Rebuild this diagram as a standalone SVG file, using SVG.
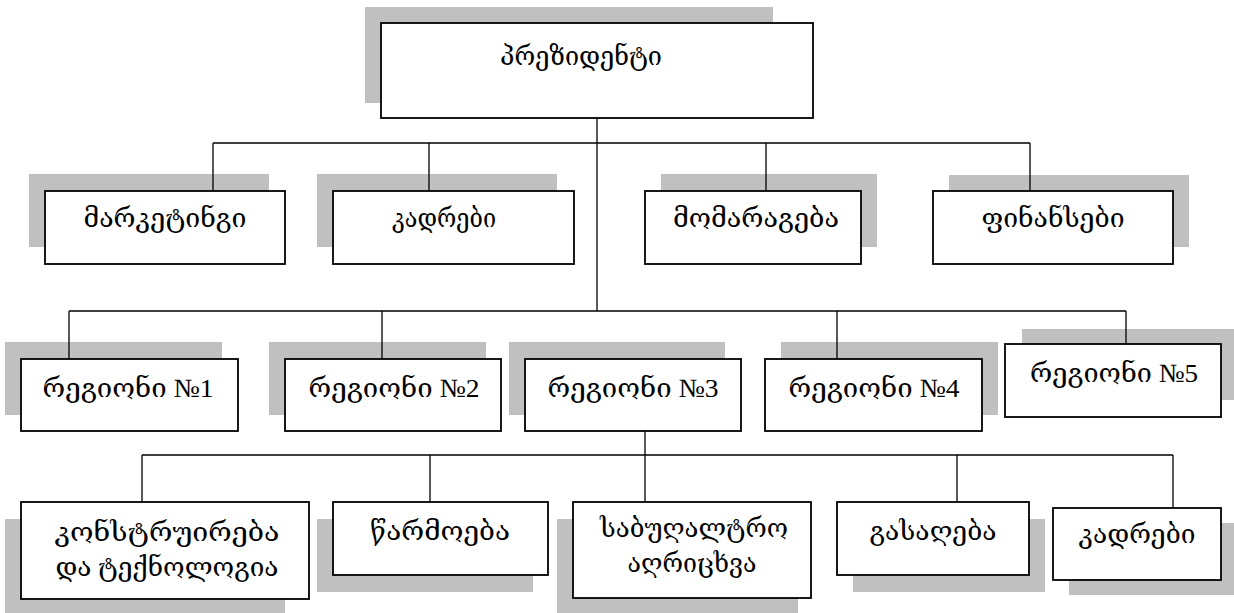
<svg xmlns="http://www.w3.org/2000/svg" width="1234" height="613" viewBox="0 0 1234 613">
  <style>
    .sh { fill: #c0c0c0; }
    .bx { fill: #ffffff; stroke: #000000; stroke-width: 1.8; }
    .ln { fill: none; stroke: #000000; stroke-width: 1.3; }
    .t  { font-family: "Liberation Serif", "DejaVu Serif", "DejaVu Sans", serif; font-size: 26px; font-weight: 200; text-anchor: middle; fill: #000000; }
  </style>
  <rect width="1234" height="613" fill="#ffffff"/>

  <!-- top level -->
  <g id="president">
    <rect class="sh" x="365" y="7" width="408" height="96"/>
    <rect class="bx" x="381" y="23" width="432" height="95"/>
    <text class="t" x="581" y="65" textLength="162" lengthAdjust="spacingAndGlyphs">პრეზიდენტი</text>
  </g>

  <!-- departments -->
  <g id="marketing">
    <rect class="sh" x="29" y="174" width="240" height="73"/>
    <rect class="bx" x="45" y="191" width="240" height="73"/>
    <text class="t" x="165" y="227" textLength="163" lengthAdjust="spacingAndGlyphs">მარკეტინგი</text>
  </g>
  <g id="personnel">
    <rect class="sh" x="317" y="174" width="240" height="73"/>
    <rect class="bx" x="333" y="191" width="241" height="73"/>
    <text class="t" x="444" y="227" textLength="104" lengthAdjust="spacingAndGlyphs">კადრები</text>
  </g>
  <g id="supply">
    <rect class="sh" x="661" y="174" width="216" height="73"/>
    <rect class="bx" x="645" y="191" width="216" height="73"/>
    <text class="t" x="756" y="227" textLength="166" lengthAdjust="spacingAndGlyphs">მომარაგება</text>
  </g>
  <g id="finance">
    <rect class="sh" x="949" y="175" width="240" height="72"/>
    <rect class="bx" x="933" y="191" width="240" height="73"/>
    <text class="t" x="1053" y="227" textLength="143" lengthAdjust="spacingAndGlyphs">ფინანსები</text>
  </g>

  <!-- regions -->
  <g id="region1">
    <rect class="sh" x="5" y="342" width="217" height="73"/>
    <rect class="bx" x="21" y="359" width="217" height="72"/>
    <text class="t" x="128" y="397" textLength="171" lengthAdjust="spacingAndGlyphs">რეგიონი №1</text>
  </g>
  <g id="region2">
    <rect class="sh" x="269" y="342" width="217" height="73"/>
    <rect class="bx" x="285" y="359" width="216" height="72"/>
    <text class="t" x="394" y="397" textLength="171" lengthAdjust="spacingAndGlyphs">რეგიონი №2</text>
  </g>
  <g id="region3">
    <rect class="sh" x="509" y="342" width="216" height="73"/>
    <rect class="bx" x="525" y="359" width="216" height="72"/>
    <text class="t" x="633" y="397" textLength="171" lengthAdjust="spacingAndGlyphs">რეგიონი №3</text>
  </g>
  <g id="region4">
    <rect class="sh" x="781" y="342" width="217" height="73"/>
    <rect class="bx" x="765" y="359" width="217" height="72"/>
    <text class="t" x="874" y="397" textLength="171" lengthAdjust="spacingAndGlyphs">რეგიონი №4</text>
  </g>
  <g id="region5">
    <rect class="sh" x="1022" y="329" width="212" height="71"/>
    <rect class="bx" x="1005" y="344" width="216" height="73"/>
    <text class="t" x="1114" y="382" textLength="168" lengthAdjust="spacingAndGlyphs">რეგიონი №5</text>
  </g>

  <!-- units of region 3 -->
  <g id="design">
    <rect class="sh" x="5" y="519" width="280" height="94"/>
    <rect class="bx" x="21" y="502" width="288" height="97"/>
    <text class="t" x="167" y="541" textLength="225" lengthAdjust="spacingAndGlyphs">კონსტრუირება</text>
    <text class="t" x="167" y="576" textLength="223" lengthAdjust="spacingAndGlyphs">და ტექნოლოგია</text>
  </g>
  <g id="production">
    <rect class="sh" x="317" y="519" width="216" height="73"/>
    <rect class="bx" x="333" y="502" width="215" height="73"/>
    <text class="t" x="440" y="540" textLength="140" lengthAdjust="spacingAndGlyphs">წარმოება</text>
  </g>
  <g id="accounting">
    <rect class="sh" x="557" y="519" width="241" height="94"/>
    <rect class="bx" x="573" y="502" width="238" height="96"/>
    <text class="t" x="694" y="537" textLength="188" lengthAdjust="spacingAndGlyphs">საბუღალტრო</text>
    <text class="t" x="692" y="572" textLength="129" lengthAdjust="spacingAndGlyphs">აღრიცხვა</text>
  </g>
  <g id="sales">
    <rect class="sh" x="853" y="519" width="192" height="73"/>
    <rect class="bx" x="837" y="502" width="192" height="73"/>
    <text class="t" x="933" y="540" textLength="127" lengthAdjust="spacingAndGlyphs">გასაღება</text>
  </g>
  <g id="staff">
    <rect class="sh" x="1069" y="523" width="165" height="72"/>
    <rect class="bx" x="1053" y="508" width="168" height="72"/>
    <text class="t" x="1137" y="543" textLength="117" lengthAdjust="spacingAndGlyphs">კადრები</text>
  </g>

  <!-- connectors -->
  <g id="connectors" class="ln">
    <path d="M597,118 V311"/>
    <path d="M213,143 H1030 M213,143 V191 M429,143 V191 M766,143 V191 M1030,143 V191"/>
    <path d="M69,311 H1126 M69,311 V359 M382,311 V359 M837,311 V359 M1126,311 V344"/>
    <path d="M645,431 V455"/>
    <path d="M142,455 H1173 M142,455 V502 M430,455 V502 M645,455 V502 M957,455 V502 M1173,455 V508"/>
  </g>
</svg>
